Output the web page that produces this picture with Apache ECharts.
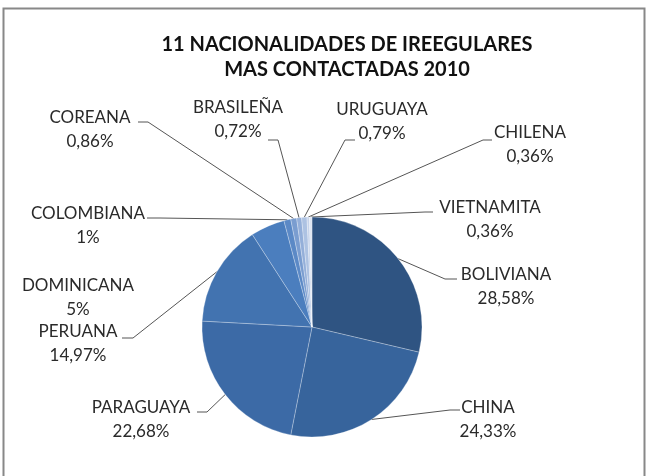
<!DOCTYPE html>
<html>
<head>
<meta charset="utf-8">
<script src="https://cdn.jsdelivr.net/npm/echarts@6/dist/echarts.min.js"></script>
<style>
  html, body { margin: 0; padding: 0; background: #fff; }
  #main { width: 648px; height: 476px; }
</style>
</head>
<body>
<div id="main"></div>
<script>
// datos del grafico
var categories = ['BOLIVIANA', 'CHINA', 'PARAGUAYA', 'PERUANA', 'DOMINICANA', 'COLOMBIANA',
                  'COREANA', 'BRASILEÑA', 'URUGUAYA', 'CHILENA', 'VIETNAMITA'];
var values = [28.58, 24.33, 22.68, 14.97, 5, 1, 0.86, 0.72, 0.79, 0.36, 0.36];
var percentLabels = ['28,58%', '24,33%', '22,68%', '14,97%', '5%', '1%',
                     '0,86%', '0,72%', '0,79%', '0,36%', '0,36%'];

var colors = ['#2f5482', '#37649c', '#3c6aa6', '#4273b0', '#4b7ebe', '#5b89c6',
              '#7a9dd0', '#94afd9', '#adc2e2', '#c6d3ea', '#dde5f2'];

// posicion de las etiquetas (centro del texto) y de la linea guia
var labelCenter = [[506, 287], [488, 420], [141, 420], [78, 344], [78, 298], [88, 226],
                   [90, 130], [238, 120], [382, 122], [530, 145], [490, 220]];
var lineBend = [[445, 279], [450, 410], [207, 412], [133, 338], null, [160, 218],
                [148, 122], [278, 140], [345, 140], [483, 140], [425, 212]];
var lineEnd = [[457, 279], [460, 410], [197, 412], [122, 338], null, [147, 218],
               [138, 122], [268, 140], [355, 140], [492, 140], [433, 212]];

var myChart = echarts.init(document.getElementById('main'));

var seriesData = categories.map(function (name, i) {
    return {
        name: name,
        value: values[i],
        itemStyle: { color: colors[i] },
        labelLine: { show: lineEnd[i] !== null }
    };
});

option = {
    animation: false,
    title: {
        text: '11 NACIONALIDADES DE IREEGULARES\nMAS CONTACTADAS 2010',
        left: 342,
        top: 27,
        textAlign: 'center',
        textStyle: {
            fontFamily: 'Lato',
            fontWeight: 'bold',
            fontSize: 20,
            lineHeight: 25,
            color: '#111'
        }
    },
    graphic: [{
        type: 'rect',
        shape: { x: 3.5, y: 8.5, width: 641, height: 480 },
        style: { fill: 'none', stroke: '#888', lineWidth: 2 },
        silent: true
    }],
    series: [{
        type: 'pie',
        center: [312, 327],
        radius: 110,
        startAngle: 90,
        clockwise: true,
        avoidLabelOverlap: false,
        itemStyle: {
            borderColor: 'rgba(255,255,255,0.45)',
            borderWidth: 0.6
        },
        label: {
            show: true,
            formatter: function (p) {
                return p.name + '\n' + percentLabels[p.dataIndex];
            },
            fontFamily: 'Lato',
            fontSize: 17,
            lineHeight: 24,
            color: '#2a2a2a',
            align: 'center'
        },
        labelLine: {
            show: true,
            length: 20,
            length2: 10,
            lineStyle: { color: '#555', width: 1 }
        },
        labelLayout: function (params) {
            var i = params.dataIndex;
            var c = labelCenter[i];
            var out = {
                x: c[0],
                y: c[1],
                align: 'center',
                verticalAlign: 'middle'
            };
            if (lineEnd[i] && params.labelLinePoints) {
                out.labelLinePoints = [params.labelLinePoints[0], lineBend[i], lineEnd[i]];
            }
            return out;
        },
        data: seriesData
    }]
};

myChart.setOption(option);
</script>
</body>
</html>
